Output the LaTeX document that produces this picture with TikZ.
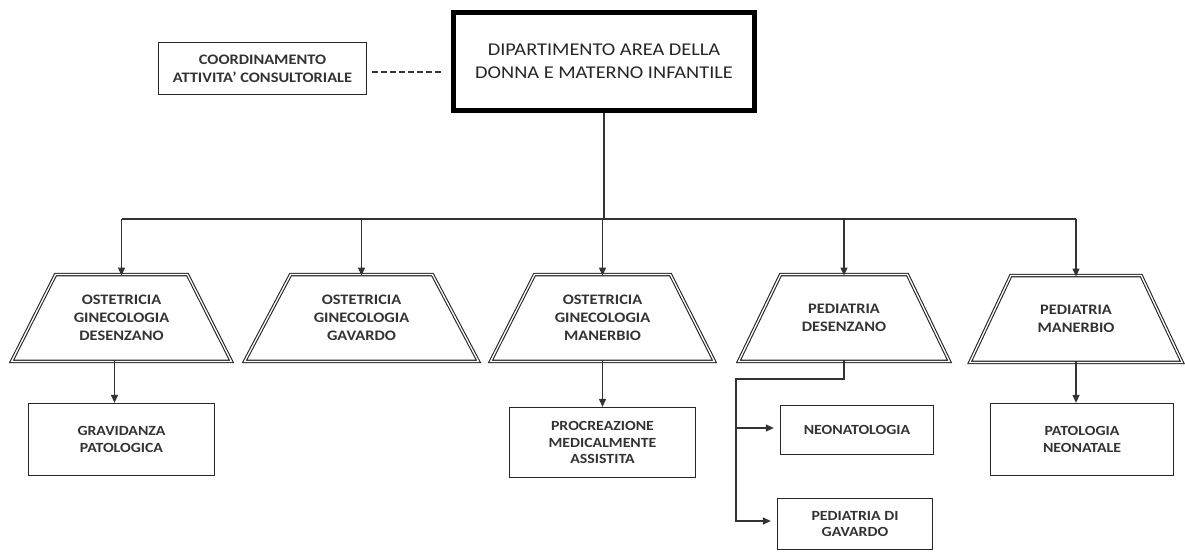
\documentclass[tikz,border=0pt]{standalone}
\usepackage{fontspec}
\setmainfont{Carlito}[FakeStretch=1.13]
\usetikzlibrary{arrows.meta}
\begin{document}
\begin{tikzpicture}[x=1pt,y=-1pt,
  line/.style={draw=black!80, line width=1.2pt},
  arr/.style={line, -{Triangle[length=8pt,width=7pt]}},
  unit/.style={minimum height=86.5pt, align=center, inner sep=0pt,
    font=\fontsize{14.5}{18}\selectfont\bfseries, text=black!80},
  unitborder/.style={draw=black!85, line width=1.1pt, double=white,
    double distance=1.3pt, line join=miter},
  leaf/.style={draw=black!85, line width=1.3pt, align=center, inner sep=0pt,
    font=\fontsize{14}{16.5}\selectfont\bfseries, text=black!80},
]
\useasboundingbox (0,0) rectangle (1185,554);

% head of the department
\node[draw=black, line width=5pt, minimum width=301pt, minimum height=98pt,
      align=center, font=\fontsize{18}{23}\selectfont, text=black!85]
  (main) at (604,61.5) {DIPARTIMENTO AREA DELLA\\DONNA E MATERNO INFANTILE};

% coordination office
\node[leaf, minimum width=208pt, minimum height=52pt,
      font=\fontsize{14.5}{18}\selectfont\bfseries]
  (coord) at (262.5,68.5) {COORDINAMENTO\\ATTIVITA' CONSULTORIALE};
\draw[line, line width=1.2pt, dash pattern=on 6pt off 3pt]
  ([xshift=5pt,yshift=-3.5pt]coord.east) -- ([xshift=-9pt,yshift=-3.5pt]coord.east -| main.west);

% operating units (trapezoids drawn around the named nodes)
\node[unit, minimum width=219.5pt] (t1) at (121.5,318) {OSTETRICIA\\GINECOLOGIA\\DESENZANO};
\node[unit, minimum width=233.5pt] (t2) at (361.5,318) {OSTETRICIA\\GINECOLOGIA\\GAVARDO};
\node[unit, minimum width=223.5pt] (t3) at (602.5,318) {OSTETRICIA\\GINECOLOGIA\\MANERBIO};
\node[unit, minimum width=210.5pt] (t4) at (844,318)   {PEDIATRIA\\DESENZANO};
\node[unit, minimum width=212pt]   (t5) at (1076,319)  {PEDIATRIA\\MANERBIO};
\foreach \n/\o in {t1/44,t2/46,t3/44,t4/42,t5/41}
  \draw[unitborder] (\n.south west) -- (\n.south east)
    -- ([xshift=-\o pt]\n.north east) -- ([xshift=\o pt]\n.north west) -- cycle;

% bus from the head to the units
\coordinate (bus) at (main.south |- 0,219);
\draw[line] (main.south) -- (bus);
\draw[line] (t1.north |- bus) -- (t5.north |- bus);
\foreach \t in {t1,t2,t3,t4,t5}
  \draw[arr] (\t.north |- bus) -- ([yshift=-1pt]\t.north);

% simple structures
\node[leaf, minimum width=186pt, minimum height=72pt] (gp)  at (121.5,439.5) {GRAVIDANZA\\PATOLOGICA};
\node[leaf, minimum width=186pt, minimum height=70pt] (pma) at (602.5,442.5) {PROCREAZIONE\\MEDICALMENTE\\ASSISTITA};
\node[leaf, minimum width=153pt, minimum height=49pt] (neo) at (857,430)   {NEONATOLOGIA};
\node[leaf, minimum width=155pt, minimum height=51pt] (pdg) at (855,524)   {PEDIATRIA DI\\GAVARDO};
\node[leaf, minimum width=183pt, minimum height=72pt] (pn)  at (1082,439.5) {PATOLOGIA\\NEONATALE};

\draw[arr] ([xshift=-7pt,yshift=1.5pt]t1.south) -- ([xshift=-7pt]t1.south |- gp.north);
\draw[arr] ([yshift=1.5pt]t3.south) -- (pma.north);
\draw[arr] ([yshift=1.5pt]t5.south) -- (t5.south |- pn.north);

% branch from the paediatrics unit
\coordinate (trunk) at (736,379);
\coordinate (neoin) at ([yshift=2pt]neo.west);
\coordinate (pdgin) at ([yshift=3pt]pdg.west);
\draw[arr, shorten >=6pt] ([yshift=1.5pt]t4.south) |- (trunk) |- (pdgin);
\draw[arr, shorten >=6pt] (trunk |- neoin) -- (neoin);
\end{tikzpicture}
\end{document}
